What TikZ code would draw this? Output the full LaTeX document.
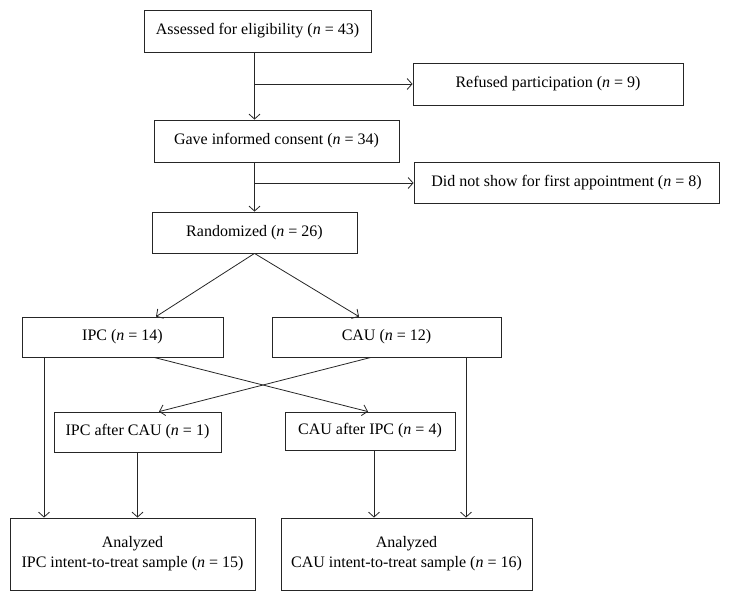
\documentclass[tikz,border=0pt]{standalone}
\usepackage{fontspec}
\setmainfont{Liberation Serif}
\usetikzlibrary{arrows.meta}
\tikzset{
  box/.style={draw=black!85, line width=0.8pt, rectangle, inner sep=0pt, align=center,
    font=\fontsize{16}{20}\selectfont},
  arr/.style={draw=black!85, line width=0.8pt, -{Straight Barb[length=5pt,width=11pt,line width=0.8pt]}},
  ln/.style={draw=black!85, line width=0.8pt}
}
\newcommand{\nn}[1]{(\textit{n} = #1)}
\begin{document}
\begin{tikzpicture}[x=1pt,y=-1pt]
\useasboundingbox (0,0) rectangle (729,598);
\node[box, minimum width=227, minimum height=42] (b1) at (257.5,31) {Assessed for eligibility \nn{43}};
\node[box, minimum width=270, minimum height=42] (b2) at (548,84) {Refused participation \nn{9}};
\node[box, minimum width=245, minimum height=42] (b3) at (276.5,141) {Gave informed consent \nn{34}};
\node[box, minimum width=305, minimum height=41] (b4) at (566.5,183) {Did not show for first appointment \nn{8}};
\node[box, minimum width=205, minimum height=41] (b5) at (254.5,232.5) {Randomized \nn{26}};
\node[box, minimum width=201, minimum height=40] (b6) at (122.5,337) {IPC \nn{14}};
\node[box, minimum width=229, minimum height=40] (b7) at (386.5,337) {CAU \nn{12}};
\node[box, minimum width=167, minimum height=40] (b8) at (137.5,432) {IPC after CAU \nn{1}};
\node[box, minimum width=170, minimum height=38] (b9) at (370,431) {CAU after IPC \nn{4}};
\node[box, minimum width=245, minimum height=72] (b10) at (132.5,554) {Analyzed\\IPC intent-to-treat sample \nn{15}};
\node[box, minimum width=251, minimum height=72] (b11) at (406.5,554) {Analyzed\\CAU intent-to-treat sample \nn{16}};

% main spine
\draw[arr] (b1.south -| b5.north) -- (b3.north -| b5.north);
\draw[arr] (b2.west -| b5.north) -- (b2.west);
\draw[arr] (b3.south -| b5.north) -- (b5.north);
\draw[arr] (b4.west -| b5.north) -- (b4.west);
% randomization
\draw[arr] (b5.south) -- ([xshift=33.5]b6.north);
\draw[arr] (b5.south) -- ([xshift=-27.5]b7.north);
% crossover
\draw[arr] ([xshift=31.5]b6.south) -- ([xshift=-2]b9.north);
\draw[arr] ([xshift=-15.5]b7.south) -- ([xshift=21.5]b8.north);
% to analysis
\draw[arr] ([xshift=-78.5]b6.south) -- ([xshift=-78.5]b6.south |- b10.north);
\draw[arr] (b8.south) -- (b8.south |- b10.north);
\draw[arr] ([xshift=4]b9.south) -- ([xshift=4]b9.south |- b11.north);
\draw[arr] ([xshift=79.5]b7.south) -- ([xshift=79.5]b7.south |- b11.north);
\end{tikzpicture}
\end{document}
